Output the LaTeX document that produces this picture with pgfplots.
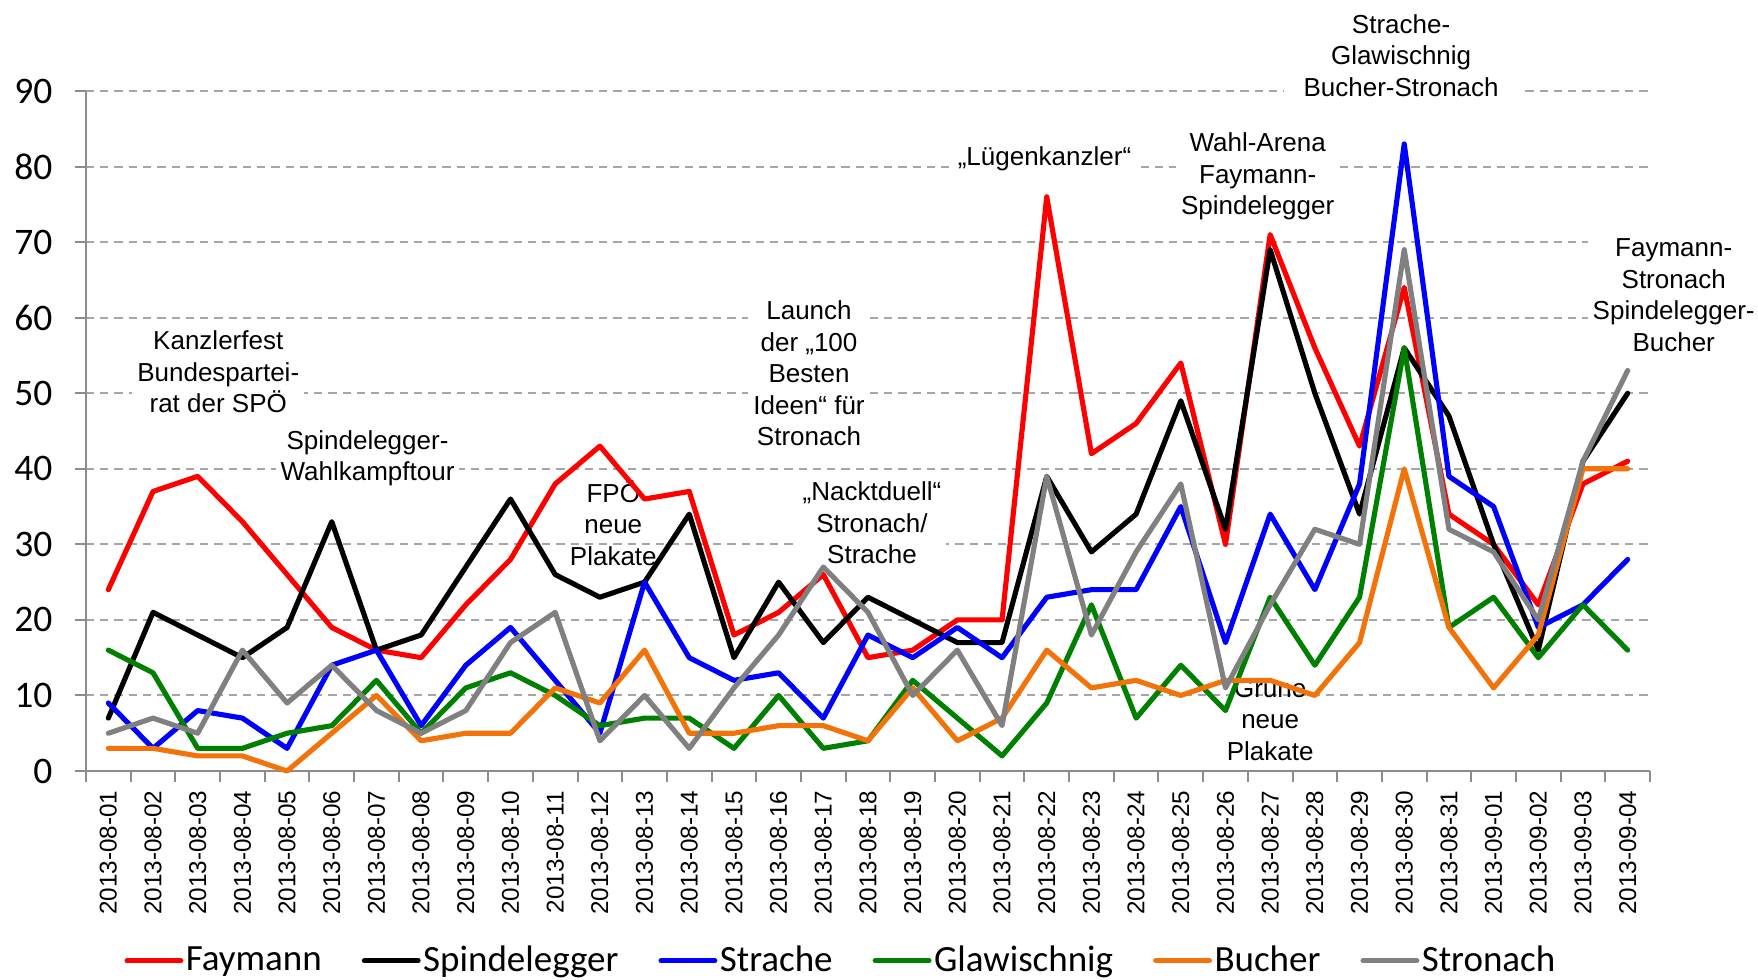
\documentclass[border=0pt]{standalone}
\usepackage{pgfplots}
\pgfplotsset{compat=1.18}
\usepackage{pgfplotstable}
\usepackage{fontspec}
\setmainfont{Liberation Sans}
\newfontfamily\carlito{Carlito}
\definecolor{cred}{RGB}{255,0,0}
\definecolor{cblack}{RGB}{0,0,0}
\definecolor{cblue}{RGB}{0,0,255}
\definecolor{cgreen}{RGB}{0,128,0}
\definecolor{corange}{RGB}{242,115,10}
\definecolor{cgray}{RGB}{128,128,128}
\definecolor{gridc}{RGB}{166,166,166}
\definecolor{axisc}{RGB}{140,140,140}
\tikzset{annot/.style={fill=white, align=center, inner sep=2pt, font=\fontsize{10.4}{12.6}\selectfont}}
\pgfplotstableread{
x Fay Spi Str Gla Buc Sto
0 24 7 9 16 3 5
1 37 21 3 13 3 7
2 39 18 8 3 2 5
3 33 15 7 3 2 16
4 26 19 3 5 0 9
5 19 33 14 6 5 14
6 16 16 16 12 10 8
7 15 18 6 5 4 5
8 22 27 14 11 5 8
9 28 36 19 13 5 17
10 38 26 12 10 11 21
11 43 23 5 6 9 4
12 36 25 25 7 16 10
13 37 34 15 7 5 3
14 18 15 12 3 5 11
15 21 25 13 10 6 18
16 26 17 7 3 6 27
17 15 23 18 4 4 21
18 16 20 15 12 11 10
19 20 17 19 7 4 16
20 20 17 15 2 7 6
21 76 39 23 9 16 39
22 42 29 24 22 11 18
23 46 34 24 7 12 29
24 54 49 35 14 10 38
25 30 32 17 8 12 11
26 71 69 34 23 12 22
27 56 50 24 14 10 32
28 43 34 38 23 17 30
29 64 56 83 56 40 69
30 34 47 39 19 19 32
31 30 30 35 23 11 29
32 22 16 19 15 18 20
33 38 41 22 22 40 41
34 41 50 28 16 40 53
}\datatable
\begin{document}
\begin{tikzpicture}
\begin{axis}[
  at={(0pt,0pt)}, anchor=south west,
  scale only axis,
  width=625.6pt, height=272pt,
  xmin=-0.5, xmax=34.5, ymin=0, ymax=90,
  clip=false,
  axis lines*=left,
  axis line style={axisc, line width=0.8pt},
  tick style={axisc, line width=0.8pt},
  tick align=outside,
  major tick length=4.4pt,
  xtick={-0.5,0.5,...,34.5},
  x tick label as interval,
  xticklabels={2013-08-01,2013-08-02,2013-08-03,2013-08-04,2013-08-05,2013-08-06,2013-08-07,2013-08-08,2013-08-09,2013-08-10,2013-08-11,2013-08-12,2013-08-13,2013-08-14,2013-08-15,2013-08-16,2013-08-17,2013-08-18,2013-08-19,2013-08-20,2013-08-21,2013-08-22,2013-08-23,2013-08-24,2013-08-25,2013-08-26,2013-08-27,2013-08-28,2013-08-29,2013-08-30,2013-08-31,2013-09-01,2013-09-02,2013-09-03,2013-09-04},
  xticklabel style={rotate=90, anchor=east, font=\fontsize{9.7}{10}\selectfont},
  ytick={0,10,...,90},
  yticklabel style={font=\carlito\fontsize{15}{15}\selectfont, xshift=-5.5pt},
  /pgf/number format/assume math mode=true,
  ymajorgrids,
  y grid style={gridc, line width=0.8pt, dash pattern=on 3.3pt off 2.4pt},
  legend style={draw=none, fill=none, at={(0.0195,-0.279)}, anchor=west,
    font=\carlito\fontsize{14.8}{14.8}\selectfont,
    nodes={inner xsep=1pt},
    /tikz/every even column/.append style={column sep=15pt}},
  legend columns=-1,
  legend image code/.code={\draw[#1] (0pt,0pt) -- (21.5pt,0pt);},
  every axis plot/.append style={line width=2.05pt, line join=round, line cap=round, mark=none},
]
\node[annot] at (axis cs:2.46,52.8) {Kanzlerfest\\Bundespartei-\\rat der SPÖ};
\node[annot] at (axis cs:5.8,41.4) {Spindelegger-\\Wahlkampftour};
\node[annot, fill=none] at (axis cs:11.3,32.8) {FPÖ\\neue\\Plakate};
\node[annot] at (axis cs:15.68,52.6) {Launch\\der „100\\Besten\\Ideen“ für\\Stronach};
\node[annot] at (axis cs:17.09,32.8) {„Nacktduell“\\Stronach/\\Strache};
\node[annot] at (axis cs:20.95,81) {„Lügenkanzler“};
\node[annot] at (axis cs:25.72,78.7) {Wahl-Arena\\Faymann-\\Spindelegger};
\node[annot, inner xsep=8pt] at (axis cs:28.93,94.7) {Strache-\\Glawischnig\\Bucher-Stronach};
\node[annot, fill=none] at (axis cs:26.0,6.8) {Grüne\\neue\\Plakate};
\node[annot] at (axis cs:35.03,63) {Faymann-\\Stronach\\Spindelegger-\\Bucher};
\addplot[cred] table[x=x,y=Fay] {\datatable};
\addlegendentry{Faymann}
\addplot[cblack] table[x=x,y=Spi] {\datatable};
\addlegendentry{Spindelegger}
\addplot[cblue] table[x=x,y=Str] {\datatable};
\addlegendentry{Strache}
\addplot[cgreen] table[x=x,y=Gla] {\datatable};
\addlegendentry{Glawischnig}
\addplot[corange] table[x=x,y=Buc] {\datatable};
\addlegendentry{Bucher}
\addplot[cgray] table[x=x,y=Sto] {\datatable};
\addlegendentry{Stronach}
\end{axis}
\pgfresetboundingbox
\path[use as bounding box] (-34.4pt,-83.2pt) rectangle (668.8pt,308.4pt);
\end{tikzpicture}
\end{document}
